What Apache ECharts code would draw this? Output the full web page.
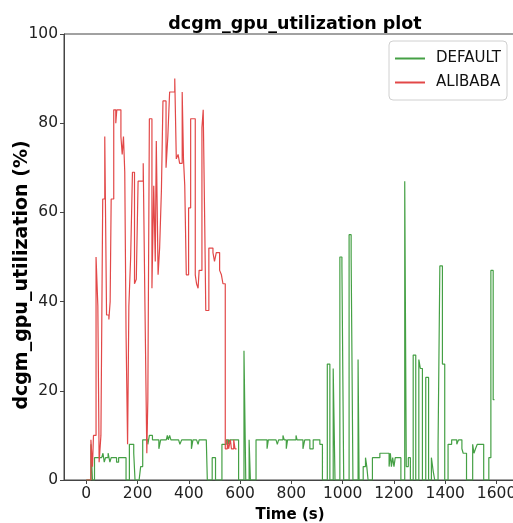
<!DOCTYPE html>
<html>
<head>
<meta charset="utf-8">
<script src="https://cdn.jsdelivr.net/npm/echarts@6/dist/echarts.min.js"></script>
<style>
  html, body { margin: 0; padding: 0; background: #fff; }
  #chart { width: 513px; height: 523px; }
</style>
</head>
<body>
<div id="chart"></div>
<script>
// DEFAULT run: time (s) and utilization (%)
const defaultTime = [0, 18, 24, 32, 50, 60, 65, 70, 75, 85,
  92, 97, 110, 118, 126, 140, 155, 168, 185, 190,
  206, 212, 220, 232, 240, 246, 258, 270, 283, 290,
  312, 316, 320, 325, 330, 360, 365, 372, 380, 400,
  410, 416, 430, 436, 440, 468, 472, 491, 504, 529,
  546, 555, 560, 594, 615, 622, 635, 640, 662, 705,
  710, 740, 745, 750, 767, 772, 780, 785, 800, 818,
  822, 845, 852, 872, 885, 911, 921, 940, 950, 963,
  970, 989, 997, 1004, 1025, 1033, 1040, 1060, 1064, 1080,
  1089, 1094, 1099, 1116, 1145, 1181, 1186, 1190, 1195, 1200,
  1205, 1227, 1242, 1248, 1256, 1264, 1275, 1285, 1297, 1303,
  1311, 1324, 1335, 1346, 1353, 1359, 1372, 1379, 1389, 1398,
  1411, 1418, 1425, 1445, 1452, 1465, 1470, 1483, 1507, 1512,
  1518, 1525, 1550, 1570, 1578, 1587, 1592];
const defaultUtil = [0, 8, 0, 5, 5, 5, 6, 4, 5, 6,
  4, 5, 5, 4, 5, 5, 0, 8, 6, 0,
  0, 3, 9, 9, 8, 10, 9, 9, 7, 9,
  9, 10, 9, 10, 9, 9, 8, 9, 9, 9,
  7, 9, 9, 8, 9, 9, 0, 5, 0, 8,
  9, 8, 9, 0, 29, 0, 9, 0, 9, 7,
  9, 9, 8, 9, 10, 9, 7, 9, 9, 10,
  9, 7, 9, 7, 9, 8, 0, 26, 0, 25,
  0, 50, 48, 0, 55, 50, 0, 27, 0, 3,
  5, 3, 0, 5, 6, 3, 6, 3, 5, 3,
  5, 0, 67, 3, 5, 0, 28, 0, 27, 25,
  0, 23, 0, 5, 2, 0, 8, 48, 26, 0,
  8, 8, 9, 8, 9, 7, 6, 0, 8, 6,
  7, 8, 0, 5, 47, 18, 18];

// ALIBABA run
const alibabaTime = [0, 18, 24, 28, 38, 45, 50, 57, 64, 72,
  79, 88, 93, 97, 107, 115, 119, 135, 140, 145,
  150, 155, 161, 166, 173, 180, 188, 195, 202, 222,
  229, 236, 240, 246, 256, 263, 269, 273, 280, 286,
  293, 299, 311, 318, 325, 345, 351, 358, 364, 374,
  379, 384, 390, 399, 407, 425, 430, 436, 440, 451,
  456, 462, 466, 478, 494, 500, 507, 520, 527, 533,
  542, 550, 555, 562, 566, 575, 580, 586];
const alibabaUtil = [0, 9, 3, 10, 50, 39, 4, 10, 63, 77,
  37, 36, 40, 63, 83, 80, 83, 77, 73, 77,
  69, 33, 8, 39, 50, 69, 44, 45, 67, 71,
  38, 6, 18, 81, 43, 66, 49, 76, 46, 52,
  65, 85, 70, 77, 87, 90, 72, 73, 71, 87,
  72, 66, 46, 61, 81, 46, 44, 43, 47, 79,
  83, 57, 38, 52, 51, 49, 51, 47, 46, 44,
  7, 9, 7, 9, 7, 9, 7, 7];

const xTicks = [0, 200, 400, 600, 800, 1000, 1200, 1400, 1600];
const yTicks = [0, 20, 40, 60, 80, 100];

const FONT = "DejaVu Sans";

const zip = (xs, ys) => xs.map((x, i) => [x, ys[i]]);

const chart = echarts.init(document.getElementById("chart"), null, { renderer: "canvas" });

const option = {
  animation: false,
  backgroundColor: "#fff",
  title: {
    text: "dcgm_gpu_utilization plot",
    left: 290,
    textAlign: "center",
    top: 10,
    textStyle: { fontFamily: FONT, fontSize: 17.5, fontWeight: "bold", color: "#000" },
  },
  legend: {
    orient: "vertical",
    right: 6,
    top: 41,
    icon: "rect",
    itemWidth: 30,
    itemHeight: 2,
    itemGap: 9,
    padding: [10, 6, 10, 6],
    borderColor: "#d0d0d0",
    borderWidth: 1,
    borderRadius: 4,
    textStyle: { fontFamily: FONT, fontSize: 15, color: "#111", padding: [0, 0, 0, 6] },
    data: ["DEFAULT", "ALIBABA"],
  },
  grid: {
    left: 64,
    top: 34,
    right: -3,
    bottom: 43,
    outerBoundsMode: "none",
    show: true,
    borderColor: "#444",
    borderWidth: 1,
  },
  xAxis: {
    type: "value",
    min: -87,
    max: 1676,
    name: "Time (s)",
    nameLocation: "middle",
    nameGap: 28,
    nameTextStyle: { fontFamily: FONT, fontSize: 15, fontWeight: "bold", color: "#000" },
    axisLine: { onZero: false, lineStyle: { color: "#444" } },
    axisTick: { show: true, length: 4, customValues: xTicks, lineStyle: { color: "#444" } },
    axisLabel: {
      customValues: xTicks,
      margin: 6,
      fontFamily: FONT,
      fontSize: 15.5,
      color: "#222",
      formatter: (v) => String(v),
    },
    splitLine: { show: false },
  },
  yAxis: {
    type: "value",
    min: 0,
    max: 100,
    interval: 20,
    name: "dcgm_gpu_utilization (%)",
    nameLocation: "middle",
    nameGap: 32,
    nameMoveOverlap: false,
    nameTextStyle: { fontFamily: FONT, fontSize: 19, fontWeight: "bold", color: "#000", padding: [0, 36, 0, 0] },
    axisLine: { show: true, onZero: false, lineStyle: { color: "#444" } },
    axisTick: { show: true, length: 4, lineStyle: { color: "#444" } },
    axisLabel: { margin: 6, fontFamily: FONT, fontSize: 15.5, color: "#222" },
    splitLine: { show: false },
  },
  series: [
    {
      name: "DEFAULT",
      type: "line",
      step: "end",
      showSymbol: false,
      color: "#45a045",
      lineStyle: { width: 1.2 },
      data: zip(defaultTime, defaultUtil),
    },
    {
      name: "ALIBABA",
      type: "line",
      step: "end",
      showSymbol: false,
      color: "#e24848",
      lineStyle: { width: 1.2 },
      data: zip(alibabaTime, alibabaUtil),
    },
  ],
};

chart.setOption(option);
</script>
</body>
</html>
